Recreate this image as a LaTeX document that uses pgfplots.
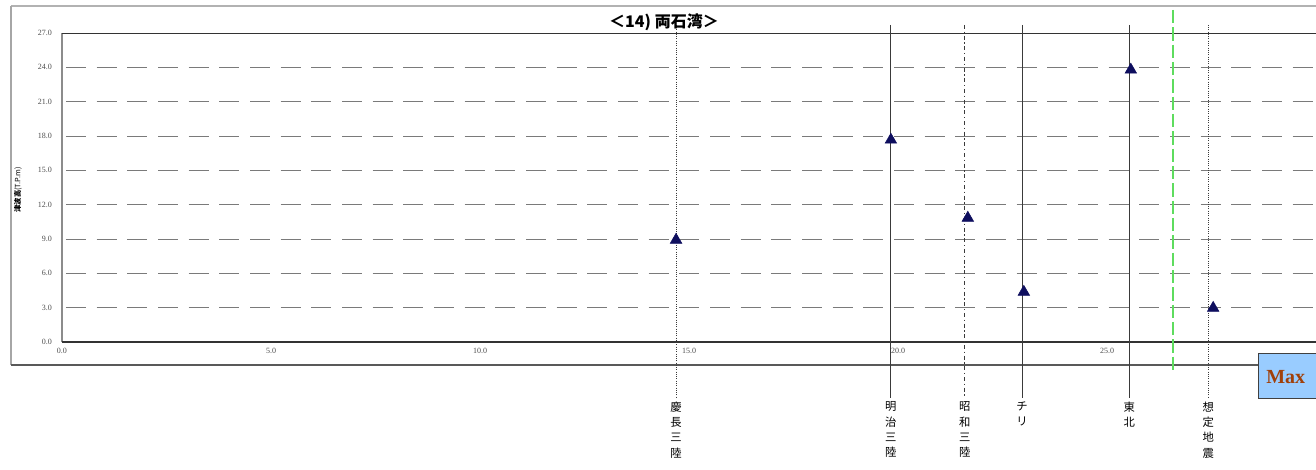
\documentclass[border=0pt]{standalone}
\usepackage{pgfplots}
\pgfplotsset{compat=1.18}
\usepackage{fontspec}
\setmainfont{Liberation Serif}
\newfontfamily\jp{Noto Sans CJK JP}
\definecolor{gridgray}{HTML}{7A7A7A}
\definecolor{navy}{HTML}{0E0E5E}
\definecolor{lgreen}{HTML}{5EDC5E}
\definecolor{boxblue}{HTML}{99CCFF}
\definecolor{maxbrown}{HTML}{A0400A}
\definecolor{evline}{HTML}{3A3A3A}
\begin{document}
\begin{tikzpicture}[x=0.75pt,y=-0.75pt]
\useasboundingbox (0,0) rectangle (1316,470);
% outer frame
\draw[draw=black!30, line width=1.6pt] (11,6) -- (1330,6);
\draw[draw=black!35, line width=1.6pt] (11,6) -- (11,365);
\draw[draw=black!65, line width=0.8pt] (11,365) -- (1258,365);
\begin{axis}[
  at={(46.5pt,-256.5pt)}, anchor=south west,
  scale only axis, width=940.5pt, height=231.75pt,
  xmin=0, xmax=30, ymin=0, ymax=27,
  clip=false,
  axis line style={draw=none},
  major tick length=0pt,
  xtick={0,5,10,15,20,25},
  xticklabels={0.0,5.0,10.0,15.0,20.0,25.0},
  ytick={0,3,6,9,12,15,18,21,24,27},
  yticklabels={0.0,3.0,6.0,9.0,12.0,15.0,18.0,21.0,24.0,27.0},
  ticklabel style={font=\fontsize{6}{6.5}\selectfont, text=black!70},
  yticklabel style={xshift=-4pt},
  xticklabel style={yshift=-1pt},
  ymajorgrids,
  grid style={draw=gridgray, line width=0.6pt, dash pattern=on 15pt off 8pt, dash phase=-3pt},
]
% axis frame lines
\draw[draw=black!45, line width=1.8pt] (rel axis cs:0,0) -- (rel axis cs:0,1);
\draw[draw=black!80, line width=0.8pt] (rel axis cs:0,0) -- (rel axis cs:1,0);
\draw[draw=black!80, line width=0.6pt] (rel axis cs:0,1) -- (rel axis cs:1,1);
% event lines
\addplot[draw=evline, line width=0.7pt, densely dotted] coordinates {(14.69,27.71) (14.69,-4.9)};
\addplot[draw=evline, line width=0.7pt] coordinates {(19.83,27.71) (19.83,-4.9)};
\addplot[draw=evline, line width=0.6pt, dash pattern=on 3pt off 2pt on 1pt off 2pt] coordinates {(21.60,27.71) (21.60,-4.9)};
\addplot[draw=evline, line width=0.8pt] coordinates {(22.97,27.71) (22.97,-4.9)};
\addplot[draw=evline, line width=0.9pt] coordinates {(25.53,27.71) (25.53,-4.9)};
\addplot[draw=evline, line width=0.7pt, densely dotted] coordinates {(27.42,27.71) (27.42,-4.9)};
\addplot[draw=lgreen, line width=1.6pt, dash pattern=on 10pt off 3pt] coordinates {(26.58,29.02) (26.58,-2.45)};
% data points
\addplot[only marks, mark=triangle*, mark size=5pt, color=navy] coordinates {
(14.69,8.92) (19.83,17.66) (21.67,10.84) (23.01,4.37) (25.57,23.78) (27.54,2.97)};
% event labels
\tikzset{evlab/.style={anchor=north, align=center, inner sep=0pt, font=\jp\fontsize{8.5}{11.5}\selectfont}}
\node[evlab] at (axis cs:14.69,-5.2) {慶\\長\\三\\陸};
\node[evlab] at (axis cs:19.83,-5.2) {明\\治\\三\\陸};
\node[evlab] at (axis cs:21.60,-5.2) {昭\\和\\三\\陸};
\node[evlab] at (axis cs:22.97,-5.2) {チ\\リ};
\node[evlab] at (axis cs:25.53,-5.2) {東\\北};
\node[evlab] at (axis cs:27.42,-5.2) {想\\定\\地\\震};
\end{axis}
% title
\node[font=\jp\bfseries\fontsize{12}{13}\selectfont] at (664,22) {＜14) 両石湾＞};
% y axis label
\node[rotate=90, font=\jp\fontsize{5.5}{6}\selectfont] at (18,190) {\textbf{津波高}(T.P.m)};
% Max box
\draw[draw=black!75, fill=boxblue, line width=0.6pt] (1258,353) rectangle (1330,398);
\node[anchor=west, font=\bfseries\fontsize{15}{15}\selectfont, text=maxbrown, inner sep=0pt] at (1266,377) {Max};
\end{tikzpicture}
\end{document}
